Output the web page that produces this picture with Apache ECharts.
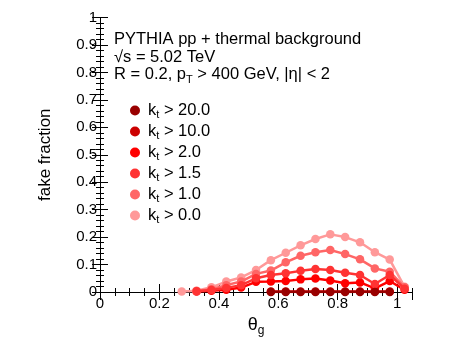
<!DOCTYPE html>
<html>
<head>
<meta charset="utf-8">
<script src="https://cdn.jsdelivr.net/npm/echarts@6/dist/echarts.min.js"></script>
<style>
  html, body { margin: 0; padding: 0; background: #fff; }
  #chart { width: 457px; height: 344px; }
</style>
</head>
<body>
<div id="chart"></div>
<script>
// theta_g bin centres
const thetaBins = [0.275, 0.325, 0.375, 0.425, 0.475, 0.525, 0.575, 0.625,
  0.675, 0.725, 0.775, 0.825, 0.875, 0.925, 0.975, 1.025]

// fake fraction per kt cut (null = no point)
const kt0 = [0.002, 0.005, 0.017, 0.038, 0.053, 0.080, 0.116, 0.143, 0.170, 0.193, 0.210, 0.200, 0.181, 0.145, 0.118, 0.019]
const kt1 = [null, 0.004, 0.010, 0.025, 0.038, 0.066, 0.078, 0.108, 0.132, 0.145, 0.153, 0.138, 0.119, 0.086, 0.074, 0.017]
const kt15 = [null, 0.003, 0.007, 0.015, 0.025, 0.050, 0.062, 0.068, 0.077, 0.084, 0.080, 0.070, 0.062, 0.029, 0.062, 0.012]
const kt2 = [null, 0.002, 0.005, 0.008, 0.016, 0.037, 0.038, 0.040, 0.046, 0.049, 0.042, 0.032, 0.035, 0.013, 0.040, 0.008]
const kt10 = [null, null, null, null, null, null, 0.002, 0.002, 0.002, 0.002, 0.002, 0.002, 0.002, 0.002, 0.002, null]
const kt20 = [null, null, null, null, null, null, 0.0, 0.0, 0.0, 0.0, 0.0, 0.0, 0.0, 0.0, 0.0, null]

const seriesNames = ['20.0', '10.0', '2.0', '1.5', '1.0', '0.0']
const seriesValues = [kt20, kt10, kt2, kt15, kt1, kt0]
const seriesColors = ['#990000', '#cc0000', '#ff0000', '#ff3333', '#ff6666', '#ff9999']
const drawOrder = [5, 1, 0, 4, 3, 2] // z per series

const font = 'Liberation Sans, Arial, sans-serif'
const chart = echarts.init(document.getElementById('chart'))

const series = seriesNames.map((name, i) => ({
  name: name,
  type: 'line',
  z: drawOrder[i] + 2,
  symbol: 'circle',
  symbolSize: 8.5,
  showSymbol: true,
  connectNulls: false,
  lineStyle: { color: seriesColors[i], width: 2.5 },
  itemStyle: { color: seriesColors[i] },
  data: thetaBins.map((x, j) => (seriesValues[i][j] === null ? null : [x, seriesValues[i][j]])).filter(d => d !== null),
  animation: false,
}))

const axisLine = { show: true, lineStyle: { color: '#000', width: 1 } }

// frame axis: ticks pointing into the plot, no labels unless asked
function frameAxis(position, max, interval, tickLen, extra) {
  return Object.assign({
    type: 'value', position: position, min: 0, max: max, interval: interval,
    axisLine: axisLine,
    axisTick: { show: true, inside: true, length: tickLen, lineStyle: { color: '#000' } },
    splitLine: { show: false },
    axisLabel: { show: false },
  }, extra || {})
}

chart.setOption({
  animation: false,
  grid: { left: 100, right: 45, top: 17.5, bottom: 52 },
  legend: {
    orient: 'vertical',
    left: 125,
    top: 97,
    itemGap: 3,
    itemWidth: 10,
    itemHeight: 10,
    icon: 'circle',
    data: seriesNames,
    formatter: name => '{k|k}{s|t}{n| > ' + name + '}',
    textStyle: {
      rich: {
        k: { fontFamily: font, fontSize: 16.5, color: '#000', padding: [0, 0, 0, 3] },
        s: { fontFamily: font, fontSize: 11, color: '#000', verticalAlign: 'bottom', padding: [8, 0, 0, 0] },
        n: { fontFamily: font, fontSize: 16.5, color: '#000' },
      },
    },
  },
  graphic: [
    {
      type: 'text', left: 114, top: 31,
      style: { text: 'PYTHIA pp + thermal background', font: '16.5px ' + font, fill: '#000' },
    },
    {
      type: 'text', left: 114, top: 49,
      style: { text: '√s = 5.02 TeV', font: '16.5px ' + font, fill: '#000' },
    },
    {
      type: 'text', left: 114, top: 66,
      style: {
        text: '{a|R = 0.2, p}{b|T}{a| > 400 GeV, |η| < 2}',
        rich: {
          a: { font: '16.5px ' + font, fill: '#000' },
          b: { font: '11px ' + font, fill: '#000', verticalAlign: 'bottom', padding: [10, 0, 0, 0] },
        },
      },
    },
  ],
  xAxis: [
    frameAxis('bottom', 1.05, 0.2, 8, {
      name: '{t|θ}{g|g}', nameLocation: 'middle', nameGap: 17,
      nameTextStyle: {
        rich: {
          t: { fontFamily: font, fontSize: 18, color: '#000' },
          g: { fontFamily: font, fontSize: 12, color: '#000', verticalAlign: 'bottom', padding: [12, 0, 0, 0] },
        },
      },
      axisLabel: { show: true, showMaxLabel: false, fontFamily: font, fontSize: 15, color: '#000', margin: 4 },
    }),
    frameAxis('top', 1.05, 0.2, 8),
    frameAxis('bottom', 1.05, 0.05, 4),
    frameAxis('top', 1.05, 0.05, 4),
  ],
  yAxis: [
    frameAxis('left', 1, 0.1, 8, {
      name: 'fake fraction', nameLocation: 'middle', nameGap: 46, nameRotate: 90,
      nameTextStyle: { fontFamily: font, fontSize: 17, color: '#000' },
      axisLabel: { show: true, fontFamily: font, fontSize: 15, color: '#000', margin: 3 },
    }),
    frameAxis('right', 1, 0.1, 8),
    frameAxis('left', 1, 0.02, 4),
    frameAxis('right', 1, 0.02, 4),
  ],
  series: series,
})
</script>
</body>
</html>
